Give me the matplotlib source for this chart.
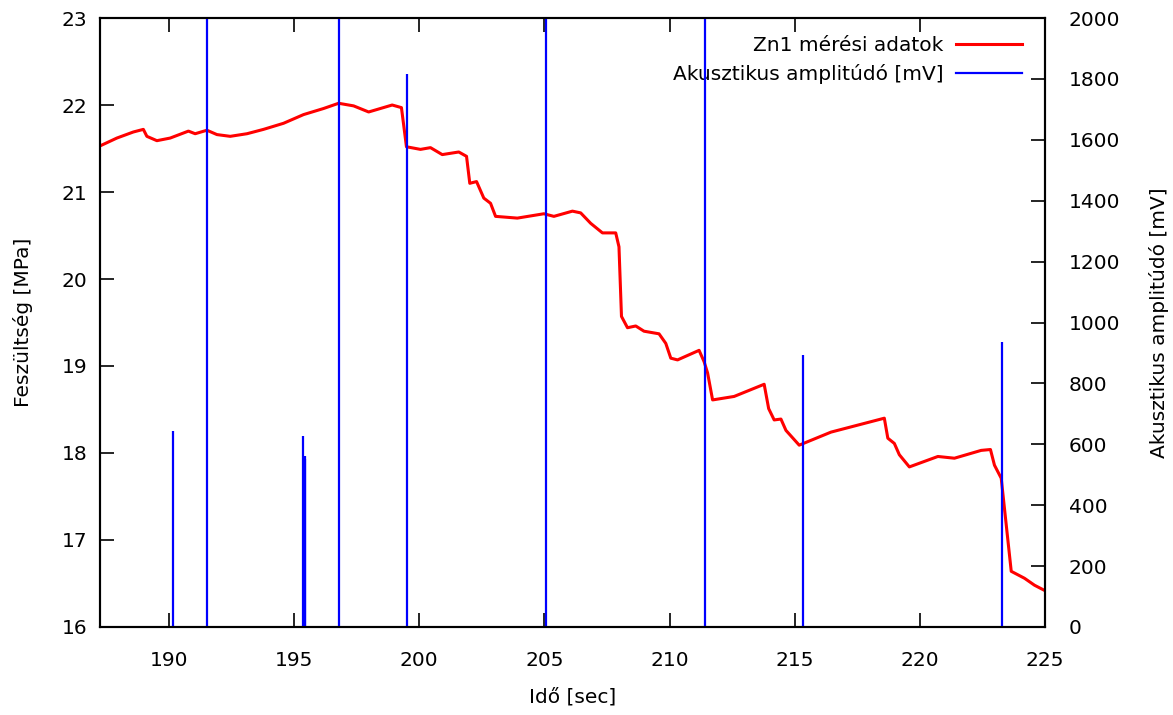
import matplotlib
matplotlib.use('Agg')
import matplotlib.pyplot as plt

# Feszültség görbe (idő [s], feszültség [MPa])
ido = [187.25, 187.92, 188.58, 188.98, 189.12, 189.52, 190.05, 190.78, 191.05, 191.52,
       191.92, 192.45, 193.12, 193.78, 194.58, 195.38, 196.18, 196.78, 197.38, 197.98,
       198.45, 198.92, 199.29, 199.49, 200.05, 200.45, 200.92, 201.58, 201.89, 202.02,
       202.29, 202.58, 202.85, 203.05, 203.92, 204.98, 205.38, 206.12, 206.45, 206.85,
       207.32, 207.85, 207.98, 208.08, 208.32, 208.65, 208.98, 209.58, 209.85, 210.05,
       210.32, 211.18, 211.38, 211.52, 211.72, 212.58, 213.78, 213.96, 214.18, 214.45,
       214.65, 215.18, 216.45, 217.78, 218.58, 218.72, 218.98, 219.18, 219.58, 220.72,
       221.38, 222.45, 222.82, 222.98, 223.25, 223.65, 224.18, 224.58, 225.05]
feszultseg = [21.53, 21.62, 21.69, 21.72, 21.64, 21.59, 21.62, 21.70, 21.67, 21.71,
              21.66, 21.64, 21.67, 21.72, 21.79, 21.89, 21.96, 22.02, 21.99, 21.92,
              21.96, 22.00, 21.97, 21.52, 21.49, 21.51, 21.43, 21.46, 21.41, 21.10,
              21.12, 20.93, 20.87, 20.72, 20.70, 20.75, 20.72, 20.78, 20.76, 20.64,
              20.53, 20.53, 20.37, 19.57, 19.44, 19.46, 19.40, 19.37, 19.26, 19.09,
              19.07, 19.18, 19.05, 18.92, 18.61, 18.65, 18.79, 18.51, 18.38, 18.39,
              18.26, 18.09, 18.24, 18.34, 18.40, 18.17, 18.11, 17.98, 17.84, 17.96,
              17.94, 18.03, 18.04, 17.86, 17.71, 16.64, 16.56, 16.48, 16.41]

# Akusztikus impulzusok (idő [s], amplitúdó [mV])
ae_ido = [190.16, 191.52, 195.37, 195.42, 195.44, 196.80, 199.53, 205.05, 211.41, 215.34, 223.29]
ae_amp = [645, 2500, 627, 560, 552, 2500, 1816, 2500, 2500, 893, 937]

FONT = 14.5

fig = plt.figure(figsize=(11.73, 7.15), dpi=100)
ax = fig.add_axes([0.0853, 0.1231, 0.8056, 0.8517])
ax2 = ax.twinx()

vonal, = ax.plot(ido, feszultseg, color='#ff0000', linewidth=2.2, label='Zn1 mérési adatok')
ax2.vlines(ae_ido, 0, ae_amp, color='#0000ff', linewidth=1.6)
imp_leg, = ax2.plot([], [], color='#0000ff', linewidth=1.6, label='Akusztikus amplitúdó [mV]')

ax.set_xlim(187.25, 225)
ax.set_ylim(16, 23)
ax2.set_ylim(0, 2000)
ax.set_xticks([190, 195, 200, 205, 210, 215, 220, 225])
ax.set_yticks(range(16, 24))
ax2.set_yticks(range(0, 2001, 200))

ax.tick_params(axis='x', direction='in', length=10, width=1.2, top=True, pad=17, labelsize=FONT)
ax.tick_params(axis='y', direction='in', length=10, width=1.2, right=False, pad=9, labelsize=FONT)
ax2.tick_params(axis='y', direction='in', length=10, width=1.2, pad=17, labelsize=FONT)

for a in (ax, ax2):
    for s in a.spines.values():
        s.set_linewidth(1.5)

ax.set_xlabel('Idő [sec]', fontsize=FONT, labelpad=13)
ax.set_ylabel('Feszültség [MPa]', fontsize=FONT, labelpad=21)
ax2.set_ylabel('Akusztikus amplitúdó [mV]', fontsize=FONT, labelpad=21)

leg = ax.legend(handles=[vonal, imp_leg], loc='upper right', bbox_to_anchor=(0.995, 1.0),
                frameon=False, markerfirst=False, fontsize=FONT, handlelength=3.3,
                handletextpad=0.6, labelspacing=0.45)
leg.set_zorder(5)

fig.savefig('out.png', dpi=100)
